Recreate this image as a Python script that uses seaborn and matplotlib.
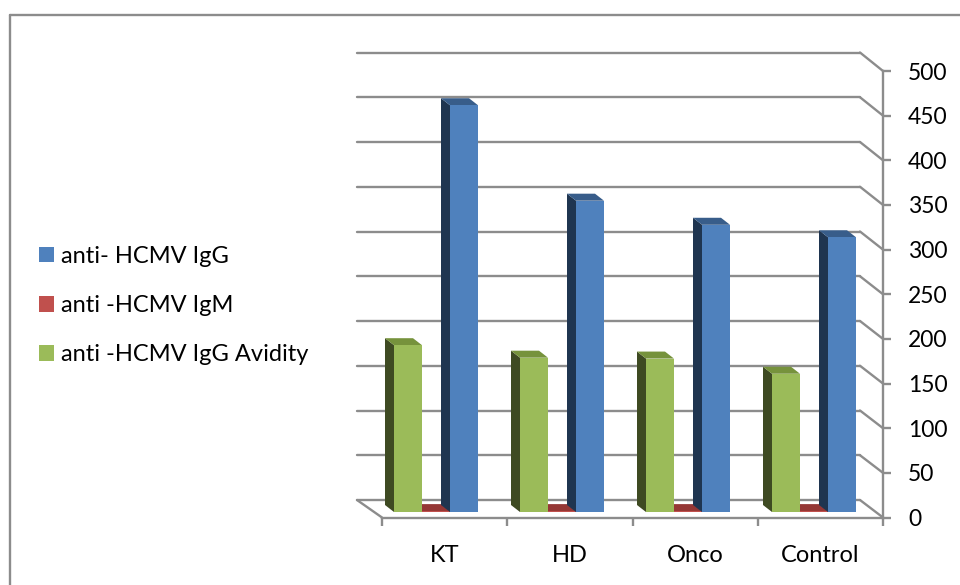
import matplotlib
matplotlib.use("Agg")
import matplotlib.pyplot as plt
import pandas as pd
import seaborn as sns
from matplotlib.lines import Line2D
from matplotlib.patches import Polygon

groups = ["KT", "HD", "Onco", "Control"]
igg = [456, 349, 322, 308]
igm = [1, 1, 1, 1]
avidity = [187, 173, 172, 155]
names = ["anti- HCMV IgG", "anti -HCMV IgM", "anti -HCMV IgG Avidity"]
value_ticks = [0, 50, 100, 150, 200, 250, 300, 350, 400, 450, 500]

faces = {names[0]: "#4F81BD", names[1]: "#C0504D", names[2]: "#9BBB59"}
sides = {names[0]: "#1F3550", names[1]: "#953735", names[2]: "#3E4A22"}
tops = {names[0]: "#385D8A", names[1]: "#953735", names[2]: "#76923C"}
GRAY = "#8C8C8C"
W, H = 960, 585

sns.set_style("white")
plt.rcParams["font.family"] = ["Lato", "DejaVu Sans"]

df = pd.DataFrame({
    "group": groups * 3,
    "value": igg + igm + avidity,
    "series": [n for n in names for _ in groups],
})


def box(left, right, y_bottom, y_top):
    return [left / W, 1 - y_bottom / H, (right - left) / W, (y_bottom - y_top) / H]


fig = plt.figure(figsize=(W / 100, H / 100), dpi=100, facecolor="white")

# back wall
back = fig.add_axes(box(357, 860, 500, 52.5), zorder=1)
back.set_xlim(0, 4)
back.set_ylim(0, 500)
back.set_yticks(value_ticks)
back.set_xticks([])
back.tick_params(labelleft=False, length=0)
back.grid(axis="y", color=GRAY, lw=1.7, clip_on=False)
for line in back.get_ygridlines():
    line.set_clip_on(False)
back.patch.set_alpha(0)
sns.despine(ax=back, left=True, bottom=True)

# front axes carrying ticks and labels
front = fig.add_axes(box(382, 883, 517.5, 71), zorder=2)
front.patch.set_alpha(0)
front.set_xlim(0, 4)
front.set_ylim(0, 500)
front.yaxis.tick_right()
front.set_yticks(value_ticks)
front.set_xticks(range(5))
front.set_xticklabels([])
front.set_xticks([i + 0.5 for i in range(4)], minor=True)
front.set_xticklabels(groups, minor=True)
front.tick_params(axis="y", length=6, width=1.7, color=GRAY, pad=12, labelsize=16.5,
                  labelcolor="black", right=True)
front.tick_params(axis="x", which="major", length=6, width=1.7, color=GRAY, bottom=True)
front.tick_params(axis="x", which="minor", length=0, pad=20, labelsize=17, labelcolor="black")
for s in ("top", "left"):
    front.spines[s].set_visible(False)
for s in ("right", "bottom"):
    front.spines[s].set_color(GRAY)
    front.spines[s].set_linewidth(1.7)

# depth connectors between back wall and front axes
fig.canvas.draw()
for v in value_ticks:
    p0 = back.transData.transform((4, v))
    p1 = front.transData.transform((4, v))
    fig.add_artist(Line2D([p0[0], p1[0]], [p0[1], p1[1]], transform=None, color=GRAY, lw=1.7, zorder=1))
p0 = back.transData.transform((0, 0))
p1 = front.transData.transform((0, 0))
fig.add_artist(Line2D([p0[0], p1[0]], [p0[1], p1[1]], transform=None, color=GRAY, lw=1.7, zorder=1))

# bars
ax = fig.add_axes(box(373, 877, 512, 66), zorder=3)
ax.patch.set_alpha(0)
order = [names[2], names[1], names[0]]
sns.barplot(data=df, x="group", y="value", hue="series", hue_order=order,
            palette=faces, saturation=1, width=2 / 3, gap=0, dodge=True,
            errorbar=None, ax=ax, linewidth=0, zorder=5)
ax.set_xlim(-0.5, 3.5)
ax.set_ylim(0, 500)
ax.axis("off")

depth_x = -9 / 126          # bar depth expressed in category units
depth_y = 7 / (446 / 500)   # bar depth expressed in value units
# the low middle series sits behind the neighbouring bars' faces
for container, name, z in zip(ax.containers, order, (2, 1, 3)):
    for bar in container:
        x0, x1 = bar.get_x(), bar.get_x() + bar.get_width()
        t = bar.get_height()
        bar.set_zorder(z + 0.5)
        ax.add_patch(Polygon([(x0, 0), (x0 + depth_x, depth_y), (x0 + depth_x, t + depth_y), (x0, t)],
                             closed=True, fc=sides[name], ec="none", zorder=z, clip_on=False))
        ax.add_patch(Polygon([(x0, t), (x0 + depth_x, t + depth_y), (x1 + depth_x, t + depth_y), (x1, t)],
                             closed=True, fc=tops[name], ec="none", zorder=z, clip_on=False))

# legend in the reference's top-to-bottom order
handles, labels = ax.get_legend_handles_labels()
leg = ax.get_legend()
if leg is not None:
    leg.remove()
fig.legend(handles[::-1], labels[::-1], loc="center left", bbox_to_anchor=(39 / W, 1 - 305.5 / H),
           frameon=False, fontsize=17, labelspacing=1.2, handlelength=0.64, handleheight=0.64,
           handletextpad=0.31, borderpad=0, borderaxespad=0, labelcolor="black")

# outer chart frame: top and left edges
fig.add_artist(Line2D([10 / W, 1], [1 - 15 / H, 1 - 15 / H], transform=fig.transFigure, color=GRAY, lw=1.7))
fig.add_artist(Line2D([10 / W, 10 / W], [1 - 15 / H, 0], transform=fig.transFigure, color=GRAY, lw=1.7))

fig.savefig("out.png", dpi=100, facecolor="white")
